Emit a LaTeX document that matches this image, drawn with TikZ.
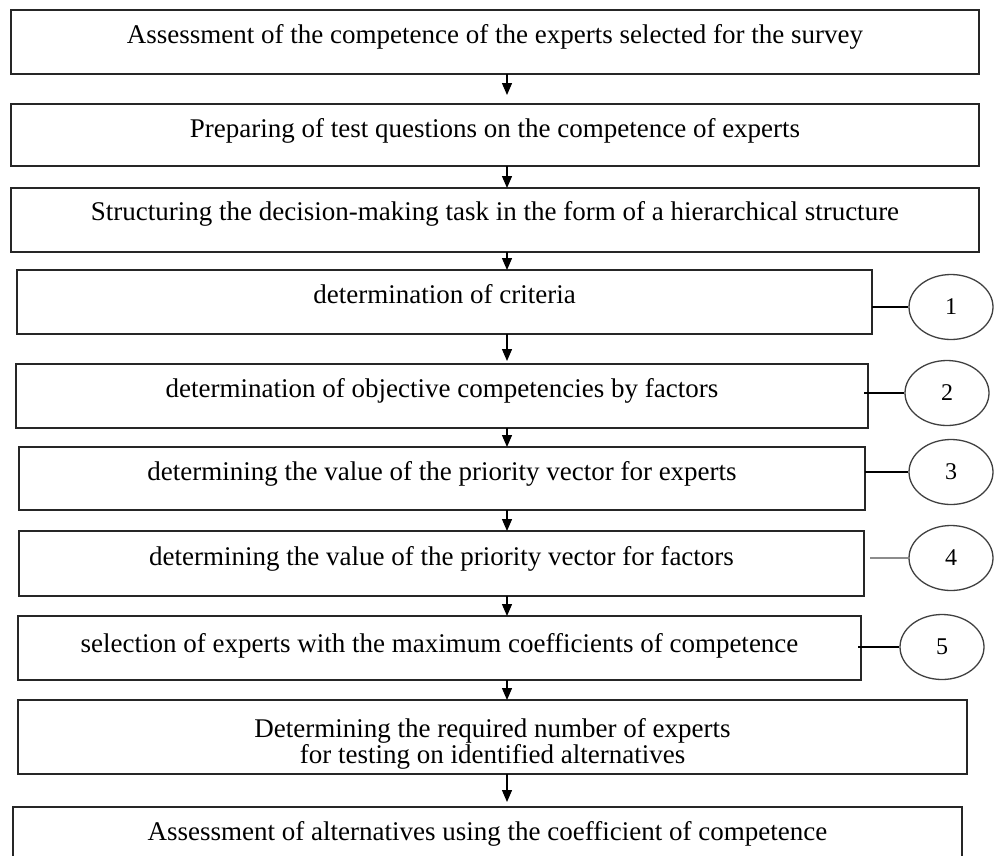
\documentclass[tikz,border=0pt]{standalone}
\usepackage{fontspec}
\setmainfont{Liberation Serif}
\usetikzlibrary{shapes.geometric,arrows.meta}
\begin{document}
\begin{tikzpicture}[x=1pt,y=-1pt,
  box/.style={draw=black!85,line width=1.8pt,rectangle,inner sep=0pt,outer sep=0pt},
  txt/.style={anchor=base,inner sep=0pt,font=\fontsize{27}{32}\selectfont},
  num/.style={draw=black!75,line width=1.3pt,ellipse,minimum width=84pt,minimum height=65pt,inner sep=0pt,font=\fontsize{24}{28}\selectfont},
  arr/.style={draw=black,line width=1.3pt,-{Triangle[length=12pt,width=10pt]}},
  link/.style={draw=black,line width=1.3pt},
  glink/.style={draw=black!45,line width=2.6pt}]
\clip (0,0) rectangle (994,855);
\fill[white] (0,0) rectangle (994,855);
\coordinate (ax) at (507,0);
% boxes
\node[box,minimum width=968pt,minimum height=64pt] (b1) at (495,42) {};
\node[box,minimum width=968pt,minimum height=62pt] (b2) at (495,135) {};
\node[box,minimum width=968pt,minimum height=64pt] (b3) at (495,220) {};
\node[box,minimum width=855pt,minimum height=64pt] (b4) at (444.5,302) {};
\node[box,minimum width=852pt,minimum height=64pt] (b5) at (442,396) {};
\node[box,minimum width=846pt,minimum height=63pt] (b6) at (442,478.5) {};
\node[box,minimum width=845pt,minimum height=65pt] (b7) at (441.5,563.5) {};
\node[box,minimum width=843pt,minimum height=64pt] (b8) at (439.5,648) {};
\node[box,minimum width=949pt,minimum height=74pt] (b9) at (492.5,737) {};
\node[box,minimum width=949pt,minimum height=64pt] (b10) at (487.5,839) {};
% texts
\node[txt] (t1) at ([yshift=-33pt]b1.north) {Assessment of the competence of the experts selected for the survey};
\node[txt] (t2) at ([yshift=-33pt]b2.north) {Preparing of test questions on the competence of experts};
\node[txt] (t3) at ([yshift=-32pt]b3.north) {Structuring the decision-making task in the form of a hierarchical structure};
\node[txt] (t4) at ([yshift=-33pt]b4.north) {determination of criteria};
\node[txt] (t5) at ([yshift=-33pt]b5.north) {determination of objective competencies by factors};
\node[txt] (t6) at ([yshift=-33pt]b6.north) {determining the value of the priority vector for experts};
\node[txt] (t7) at ([yshift=-34pt]b7.north) {determining the value of the priority vector for factors};
\node[txt] (t8) at ([yshift=-36pt]b8.north) {selection of experts with the maximum coefficients of competence};
\node[txt] (t9a) at ([yshift=-37pt]b9.north) {Determining the required number of experts};
\node[txt] (t9b) at ([yshift=-63pt]b9.north) {for testing on identified alternatives};
\node[txt] (t10) at ([yshift=-33pt]b10.north) {Assessment of alternatives using the coefficient of competence};
% arrows
\draw[arr,shorten >=9pt] (b1.south -| ax) -- (b2.north -| ax);
\draw[arr] (b2.south -| ax) -- (b3.north -| ax);
\draw[arr] (b3.south -| ax) -- (b4.north -| ax);
\draw[arr,shorten >=3pt] (b4.south -| ax) -- (b5.north -| ax);
\draw[arr] (b5.south -| ax) -- (b6.north -| ax);
\draw[arr] (b6.south -| ax) -- (b7.north -| ax);
\draw[arr] (b7.south -| ax) -- (b8.north -| ax);
\draw[arr] (b8.south -| ax) -- (b9.north -| ax);
\draw[arr,shorten >=5pt] (b9.south -| ax) -- (b10.north -| ax);
% numbered ellipses
\node[num] (c1) at (951,307) {1};
\node[num] (c2) at (947,393) {2};
\node[num] (c3) at (951,472) {3};
\node[num] (c4) at (951,558) {4};
\node[num] (c5) at (942,647) {5};
\draw[link] (b4.east |- c1) -- (c1);
\draw[link] ([xshift=-4pt]b5.east |- c2) -- (c2);
\draw[link] (b6.east |- c3) -- (c3);
\draw[glink] ([xshift=6pt]b7.east |- c4) -- (c4);
\draw[link] ([xshift=-3pt]b8.east |- c5) -- (c5);
\end{tikzpicture}
\end{document}
